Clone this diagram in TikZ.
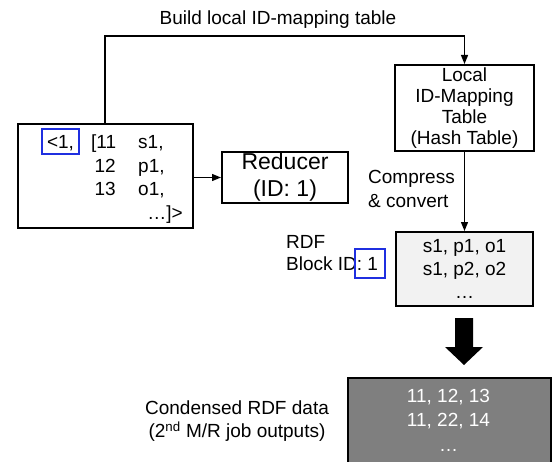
\documentclass[tikz,border=0pt]{standalone}
\usepackage{fontspec}
\setmainfont{Liberation Sans}
\usetikzlibrary{arrows.meta}
\definecolor{lightfill}{HTML}{F2F2F2}
\definecolor{darkfill}{HTML}{7F7F7F}
\definecolor{idblue}{HTML}{1F2FE0}
\begin{document}
\begin{tikzpicture}[x=1pt,y=-1pt,
  f19/.style={font=\fontsize{19}{21}\selectfont},
  box/.style={draw=black, line width=2pt, inner sep=0pt},
  txt/.style={f19, inner sep=0pt, text height=13.7pt, text depth=0pt},
  arr/.style={line width=1.2pt, -{Triangle[length=9pt,width=7pt]}},
  bluebox/.style={draw=idblue, line width=1.2pt, inner sep=0pt}]
\useasboundingbox (0,0) rectangle (553,462);
\clip (0,0) rectangle (553,462);
% boxes
\node[box, minimum width=175pt, minimum height=104pt] (lb) at (105.5,176) {};
\node[box, minimum width=126pt, minimum height=51pt, align=center,
      font=\fontsize{23}{27}\selectfont] (red) at (285,177.5) {Reducer\\(ID: 1)};
\node[box, minimum width=139pt, minimum height=86pt, align=center, f19] (lm) at (464.5,108)
  {Local\\ID-Mapping\\Table\\(Hash Table)};
\node[box, fill=lightfill, minimum width=137pt, minimum height=74pt, align=center,
      font=\fontsize{19}{23}\selectfont] (rdf) at (464.5,269) {s1, p1, o1\\s1, p2, o2\\\raisebox{0pt}{\dots}};
\node[box, fill=darkfill, minimum width=203pt, minimum height=100pt, anchor=north west] (cond) at (347,377) {};
\node[f19, text=white, align=center, font=\fontsize{19}{24.5}\selectfont] (condtxt) at (448.5,420) {11, 12, 13\\11, 22, 14\\\dots};
% left box contents
\node[txt, bluebox, minimum width=37pt, minimum height=25pt] (k1) at (60.5,141.5) {<1,};
\node[txt, anchor=west] (v11) at (91,142) {[11};
\node[txt, anchor=west] (s1) at (138,142) {s1,};
\node[txt, anchor=east] (v12) at (116,165.5) {12};
\node[txt, anchor=west] (p1) at (138,165.5) {p1,};
\node[txt, anchor=east] (v13) at (116,189) {13};
\node[txt, anchor=west] (o1) at (138,189) {o1,};
\node[txt, anchor=east] (end) at (183,212.5) {\dots]>};
% labels
\node[txt] (build) at (278,18) {Build local ID-mapping table};
\node[f19, inner sep=0pt, align=left, anchor=west, font=\fontsize{19}{24}\selectfont] (comp) at (368,189) {Compress\\\& convert};
\node[txt, anchor=west] (rdflbl) at (286,242) {RDF};
\node[txt, anchor=west] (blk) at (286,264) {Block ID: 1};
\node[bluebox, minimum width=30pt, minimum height=29pt] (bidbox) at (370,263.5) {};
\node[f19, inner sep=0pt, align=center, font=\fontsize{19}{23}\selectfont] (condlbl) at (237,421.5)
  {Condensed RDF data\\(2\textsuperscript{nd} M/R job outputs)};
% connectors
\coordinate (bl) at (105,36);
\draw[arr] (lb.north -| bl) -- (bl) -| (lm.north);
\draw[arr] (lb.east |- red.west) -- (red.west);
\draw[arr] (lm.south) -- (rdf.north);
% big arrow
\coordinate (ba) at (464,318);
\fill[black] (455,318) -- (473,318) -- (473,347) -- (483,347) -- (464,365) -- (445,347) -- (455,347) -- cycle;
\end{tikzpicture}
\end{document}
